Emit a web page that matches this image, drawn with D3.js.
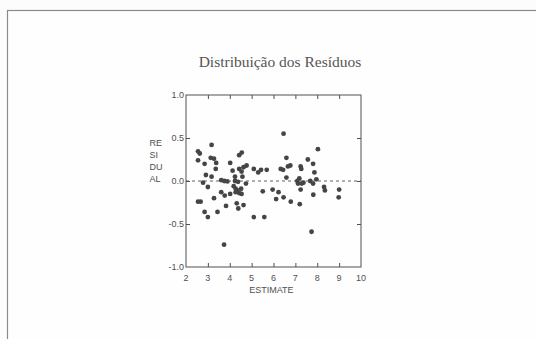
<!DOCTYPE html>
<html lang="pt">
<head>
<meta charset="utf-8">
<title>Distribuição dos Resíduos</title>
<script src="https://cdn.jsdelivr.net/npm/d3@7/dist/d3.min.js"></script>
<style>
  * { margin: 0; padding: 0; }
  body { background: #fcfcfc; overflow: hidden; }
  svg { display: block; }
</style>
</head>
<body>
<svg id="chart" width="536" height="339"></svg>
<script>
// residuals vs. estimate
const estimate = [
  2.55, 2.63, 2.55, 2.85, 3.17, 3.13, 3.28, 3.38, 3.36, 2.91,
  3.17, 2.78, 3.00, 2.55, 2.67, 2.85, 3.00, 3.28, 3.44, 3.74,
  3.61, 3.75, 3.89, 3.61, 3.77, 4.02, 3.83, 4.02, 4.13, 4.24,
  4.24, 4.18, 4.27, 4.35, 4.43, 4.54, 4.32, 4.39, 4.63, 4.43,
  4.55, 4.43, 4.54, 4.63, 4.77, 4.74, 4.58, 4.52, 5.10, 5.30,
  5.43, 5.69, 5.51, 5.10, 5.58, 5.96, 6.12, 6.23, 6.33, 6.44,
  6.46, 6.46, 6.59, 6.59, 6.66, 6.77, 6.79, 7.09, 7.18, 7.12,
  7.24, 7.27, 7.29, 7.37, 7.24, 7.20, 7.57, 7.68, 7.81, 7.87,
  7.81, 7.96, 8.03, 7.82, 7.74, 8.31, 8.35, 9.00, 8.98, 4.38,
  4.27
]
const residual = [
  0.345, 0.32, 0.24, 0.20, 0.42, 0.27, 0.26, 0.21, 0.14, 0.07,
  0.05, -0.02, -0.07, -0.24, -0.24, -0.36, -0.42, -0.20, -0.36, -0.74,
  0.01, 0.00, -0.005, -0.13, -0.17, -0.15, -0.29, 0.21, 0.12, 0.05,
  0.00, -0.06, -0.09, -0.11, -0.14, -0.15, -0.26, -0.32, -0.28, 0.30,
  0.33, 0.14, 0.11, 0.16, 0.18, -0.03, 0.05, -0.09, 0.14, 0.10,
  0.13, 0.13, -0.12, -0.42, -0.42, -0.10, -0.21, -0.13, 0.14, 0.13,
  0.55, -0.19, 0.27, 0.04, 0.17, 0.18, -0.24, 0.00, 0.03, -0.03,
  0.17, 0.14, -0.03, -0.02, -0.10, -0.27, 0.25, 0.00, 0.20, 0.10,
  -0.03, 0.02, 0.37, -0.16, -0.59, -0.07, -0.11, -0.10, -0.19, -0.01,
  -0.13
]
const xTicks = [2, 3, 4, 5, 6, 7, 8, 9, 10]
const yTicks = [-1.0, -0.5, 0.0, 0.5, 1.0]
const yLabelLines = ['RE', 'SI', 'DU', 'AL']

const points = estimate.map((e, i) => ({ x: e, y: residual[i] }))

const svg = d3.select('#chart')
const plot = { left: 186, right: 361, top: 95, bottom: 267 }

const x = d3.scaleLinear().domain([2, 10]).range([plot.left, plot.right])
const y = d3.scaleLinear().domain([-1, 1]).range([plot.bottom, plot.top])

// scanned page frame
svg.append('rect')
  .attr('x', 7.5).attr('y', 10.5)
  .attr('width', 540).attr('height', 340)
  .attr('fill', '#fefefe')
  .attr('stroke', '#8a8a8a')
  .attr('stroke-width', 1.2)

svg.append('text')
  .attr('x', 280).attr('y', 67)
  .attr('text-anchor', 'middle')
  .attr('font-family', '"Liberation Serif", "Times New Roman", serif')
  .attr('font-size', 15.5)
  .attr('fill', '#555')
  .text('Distribuição dos Resíduos')

const sans = '"Liberation Sans", Arial, sans-serif'
const ink = '#505050'

// zero reference line
svg.append('line')
  .attr('x1', plot.left).attr('x2', plot.right)
  .attr('y1', y(0)).attr('y2', y(0))
  .attr('stroke', ink).attr('stroke-width', 0.9)
  .attr('stroke-dasharray', '3,3')

// axes, ticks drawn inward
const inner = xTicks.slice(1, -1)
const innerY = yTicks.slice(1, -1)

svg.append('g')
  .attr('transform', 'translate(0,' + plot.bottom + ')')
  .call(d3.axisTop(x).tickValues(inner).tickSize(4).tickFormat(''))
svg.append('g')
  .attr('transform', 'translate(0,' + plot.top + ')')
  .call(d3.axisBottom(x).tickValues(inner).tickSize(4).tickFormat(''))
svg.append('g')
  .attr('transform', 'translate(' + plot.left + ',0)')
  .call(d3.axisRight(y).tickValues(innerY).tickSize(4).tickFormat(''))
svg.append('g')
  .attr('transform', 'translate(' + plot.right + ',0)')
  .call(d3.axisLeft(y).tickValues(innerY).tickSize(4).tickFormat(''))

svg.selectAll('.domain').remove()
svg.selectAll('.tick line').attr('stroke', ink)

svg.append('rect')
  .attr('x', plot.left).attr('y', plot.top)
  .attr('width', plot.right - plot.left).attr('height', plot.bottom - plot.top)
  .attr('fill', 'none').attr('stroke', ink).attr('stroke-width', 1)

// tick labels
svg.append('g').selectAll('text')
  .data(xTicks).join('text')
  .attr('x', d => x(d)).attr('y', plot.bottom + 14)
  .attr('text-anchor', 'middle')
  .attr('font-family', sans).attr('font-size', 9)
  .attr('fill', ink)
  .text(d => d)

svg.append('g').selectAll('text')
  .data(yTicks).join('text')
  .attr('x', plot.left - 2).attr('y', d => y(d) + 3)
  .attr('text-anchor', 'end')
  .attr('font-family', sans).attr('font-size', 9)
  .attr('fill', ink)
  .text(d => d.toFixed(1))

svg.append('text')
  .attr('x', x(5.9)).attr('y', plot.bottom + 26)
  .attr('text-anchor', 'middle')
  .attr('font-family', sans).attr('font-size', 9)
  .attr('fill', ink)
  .text('ESTIMATE')

svg.append('g').selectAll('text')
  .data(yLabelLines).join('text')
  .attr('x', 149.5).attr('y', (d, i) => 146 + i * 12)
  .attr('font-family', sans).attr('font-size', 9)
  .attr('fill', ink)
  .text(d => d)

svg.append('g').selectAll('circle')
  .data(points).join('circle')
  .attr('cx', d => x(d.x)).attr('cy', d => y(d.y))
  .attr('r', 2.4)
  .attr('fill', '#454545')
</script>
</body>
</html>
